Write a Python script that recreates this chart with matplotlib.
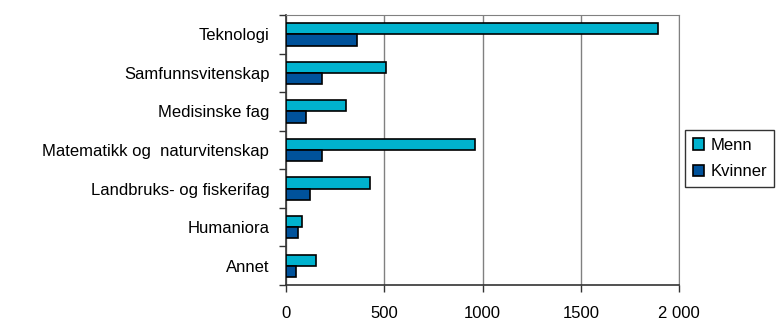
import numpy as np
import matplotlib.pyplot as plt
from matplotlib.ticker import FixedLocator, NullFormatter

plt.rcParams['font.family'] = ['Liberation Sans', 'DejaVu Sans']

categories = ['Teknologi', 'Samfunnsvitenskap', 'Medisinske fag',
              'Matematikk og  naturvitenskap', 'Landbruks- og fiskerifag',
              'Humaniora', 'Annet']
menn = [1892, 511, 307, 961, 429, 82, 153]
kvinner = [360, 184, 102, 184, 123, 60, 51]
xticks = [0, 500, 1000, 1500, 2000]
xtick_labels = ['0', '500', '1000', '1500', '2 000']

MENN_COLOR = '#00B2CE'
KVINNER_COLOR = '#00529B'

fig = plt.figure(figsize=(7.76, 3.2), dpi=100)
ax = fig.add_axes([0.3686, 0.1094, 0.5064, 0.8436])

y = np.arange(len(categories))
h = 0.29
ax.barh(y - h / 2, menn, height=h, color=MENN_COLOR, edgecolor='black',
        linewidth=1.2, label='Menn', zorder=3)
ax.barh(y + h / 2, kvinner, height=h, color=KVINNER_COLOR, edgecolor='black',
        linewidth=1.2, label='Kvinner', zorder=3)

ax.set_xlim(0, 2000)
ax.set_ylim(len(categories) - 0.5, -0.5)

# category labels centred, tick marks at the boundaries
ax.set_yticks(y)
ax.set_yticklabels(categories, fontsize=12)
ax.tick_params(axis='y', which='major', length=0, pad=12)
ax.yaxis.set_minor_locator(FixedLocator(np.arange(-0.5, len(categories), 1)))
ax.yaxis.set_minor_formatter(NullFormatter())
ax.tick_params(axis='y', which='minor', length=5, width=1, color='#333333')

ax.set_xticks(xticks)
ax.set_xticklabels(xtick_labels, fontsize=12)
ax.tick_params(axis='x', length=5, width=1, color='#333333', pad=10)

ax.grid(axis='x', color='#808080', linewidth=1, zorder=0)
for s in ['top', 'right']:
    ax.spines[s].set_color('#808080')
for s in ['left', 'bottom']:
    ax.spines[s].set_color('#333333')
    ax.spines[s].set_linewidth(1.2)

leg = fig.legend(loc='center left', bbox_to_anchor=(0.883, 0.505),
                 borderaxespad=0, fontsize=12, frameon=True, fancybox=False,
                 edgecolor='black', handlelength=0.7, handleheight=0.7,
                 handletextpad=0.35, borderpad=0.45, labelspacing=0.7)
leg.get_frame().set_linewidth(1)

fig.savefig('out.png', dpi=100)
